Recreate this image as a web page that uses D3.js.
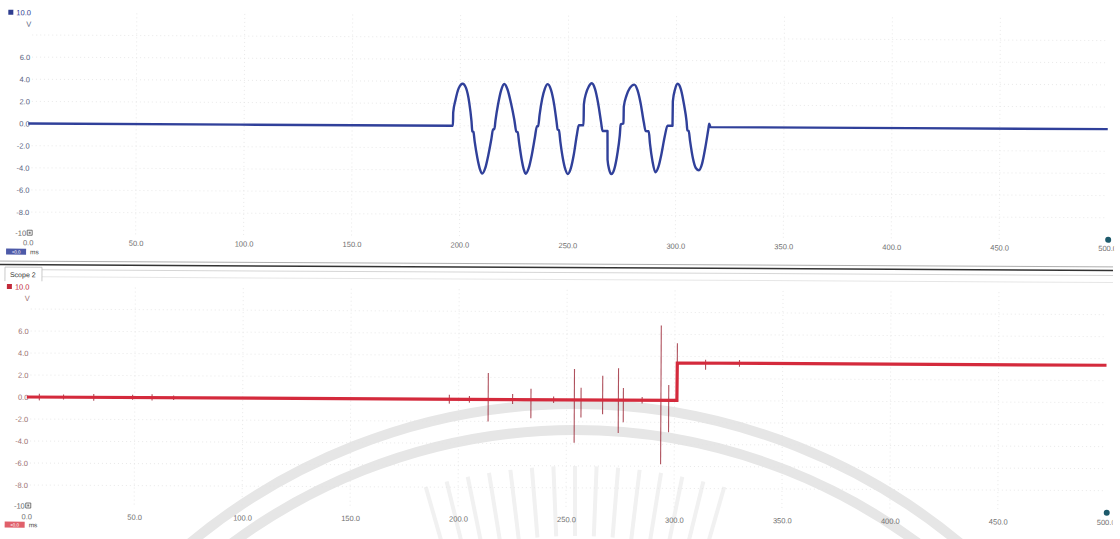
<!DOCTYPE html>
<html>
<head>
<meta charset="utf-8">
<script src="https://cdn.jsdelivr.net/npm/d3@7"></script>
<style>
  body { margin: 0; background: #fff; }
  svg { display: block; font-family: "Liberation Sans", "DejaVu Sans", sans-serif; }
</style>
</head>
<body>
<div id="scope"></div>
<script>
// values (time in ms, level in V)
const xTicks = [0, 50, 100, 150, 200, 250, 300, 350, 400, 450, 500]
const yTicks = [6, 4, 2, 0, -2, -4, -6, -8]
const gridV = [8, 6, 4, 2, 0, -2, -4, -6, -8]

const blueSignal = [
  [0, 0], [196.7, 0], [196.8, 1.2], [197.8, 2.3], [199.3, 3.4], [201.1, 3.8], [202.7, 3.4], [204.2, 2.1],
  [205.3, 0.4], [205.7, -0.5], [206.2, -0.55], [206.8, -1.4], [208.1, -2.9], [209.3, -3.9], [210.4, -4.3],
  [211.8, -3.8], [213.2, -2.6], [214.6, -1.1], [215.3, -0.3], [215.9, -0.3], [216.4, 0.5], [217.6, 2.0],
  [218.9, 3.2], [220.4, 3.8], [221.9, 3.3], [223.5, 2.1], [225.1, 0.6], [226.1, -0.5], [226.7, -0.55],
  [227.4, -1.5], [228.6, -3.0], [229.6, -3.9], [230.5, -4.3], [231.9, -3.8], [233.3, -2.6], [234.7, -1.0],
  [235.6, 0.0], [236.2, 0.0], [236.8, 1.0], [238.0, 2.5], [239.2, 3.4], [240.5, 3.8], [242.0, 3.3],
  [243.5, 2.0], [244.7, 0.4], [245.2, -0.3], [245.8, -0.35], [246.5, -1.4], [247.7, -2.9], [248.9, -3.9],
  [250.0, -4.3], [251.4, -3.8], [252.8, -2.5], [254.1, -0.8], [255.0, 0.1], [257.2, 0.1], [257.3, 2.0],
  [258.3, 3.0], [259.5, 3.6], [260.9, 3.9], [262.4, 3.4], [263.9, 2.1], [265.3, 0.4], [266.0, -0.4],
  [268.3, -0.4], [268.4, -3.0], [269.2, -3.9], [270.2, -4.3], [271.6, -3.8], [272.9, -2.5], [274.0, -0.8],
  [274.4, 0.2], [275.7, 0.3], [275.8, 1.8], [277.0, 2.8], [278.6, 3.5], [280.6, 3.8], [282.1, 3.3],
  [283.6, 2.1], [285.1, 0.4], [286.0, -0.4], [287.4, -0.4], [288.0, -1.5], [289.2, -3.1], [290.6, -4.1],
  [292.0, -3.6], [293.4, -2.4], [294.8, -0.9], [296.1, 0.1], [298.4, 0.1], [298.5, 2.3], [299.5, 3.4],
  [300.7, 3.9], [302.2, 3.4], [303.7, 2.0], [304.9, 0.5], [305.3, -0.3], [305.9, -0.35], [306.6, -1.3],
  [307.9, -2.8], [309.3, -3.7], [310.7, -3.9], [312.2, -3.3], [313.7, -1.8], [315.0, -0.2], [315.4, 0.3],
  [316.0, 0.0], [500, 0.0]
]

const redSignal = [[0, 0], [301.1, 0], [301.2, 3.4], [500, 3.4]]

// switching spikes on scope 2
const spikeTime = [5.8, 17, 31, 49, 58, 68, 195.7, 205, 213.7, 225, 233.5, 244, 253.6, 256.7, 266.7, 274.0, 276.3, 285, 293.7, 297.3, 301.2, 314.3, 330]
const spikeHigh = [0.3, 0.25, 0.3, 0.25, 0.3, 0.2, 0.4, 0.3, 2.4, 0.5, 1.0, 0.3, 2.8, 1.1, 2.2, 2.9, 1.1, 0.3, 6.8, 1.4, 5.2, 3.7, 3.7]
const spikeLow = [-0.3, -0.2, -0.3, -0.2, -0.25, -0.2, -0.4, -0.3, -2.0, -0.4, -1.7, -0.3, -3.9, -1.6, -1.3, -3.0, -2.0, -0.3, -5.8, -2.9, 0.0, 2.8, 3.1]

const width = 1120
const height = 539

const x = d3.scaleLinear().domain([0, 500]).range([27.5, 1107])
const yTop = d3.scaleLinear().domain([-10, 10]).range([237, 15.6])
const yBot = d3.scaleLinear().domain([-10, 10]).range([509.8, 289.8])

const svg = d3.select('#scope').append('svg')
  .attr('width', width)
  .attr('height', height)

svg.append('defs').append('clipPath').attr('id', 'clipR')
  .append('rect').attr('x', 0).attr('y', 0).attr('width', 1114).attr('height', height)

// faint watermark behind the lower scope
const wm = svg.append('g').attr('fill', 'none')
wm.selectAll('circle')
  .data([602, 576])
  .join('circle')
  .attr('cx', 575).attr('cy', 1006).attr('r', d => d)
  .attr('stroke', '#e6e6e6').attr('stroke-width', 10)
wm.selectAll('line')
  .data(d3.range(-0.28, 0.29, 0.04))
  .join('line')
  .attr('x1', a => 575 + 540 * Math.sin(a)).attr('y1', a => 1006 - 540 * Math.cos(a))
  .attr('x2', a => 575 + 470 * Math.sin(a)).attr('y2', a => 1006 - 470 * Math.cos(a))
  .attr('stroke', '#f1f1f1').attr('stroke-width', 4)

// the screenshot is tilted a little
const root = svg.append('g').attr('transform', 'rotate(0.3,560,270)')

const lineTop = d3.line().x(d => x(d[0])).y(d => yTop(d[1])).curve(d3.curveMonotoneX)
const lineBot = d3.line().x(d => x(d[0])).y(d => yBot(d[1]))

function grid(g, y) {
  g.selectAll('.h')
    .data(gridV)
    .join('line').attr('class', 'h')
    .attr('x1', 31).attr('x2', x(500))
    .attr('y1', d => y(d)).attr('y2', d => y(d))
  g.selectAll('.v')
    .data(xTicks.slice(1, -1))
    .join('line').attr('class', 'v')
    .attr('x1', d => x(d)).attr('x2', d => x(d))
    .attr('y1', y(10)).attr('y2', y(-10))
  g.attr('stroke', '#e4e4e4').attr('stroke-width', 0.8).attr('stroke-dasharray', '1,3')
}

function panel(y, yColor, mainColor, rectColor, axisY, msY) {
  const p = root.append('g')
  p.append('g').call(g => grid(g, y))

  // y axis labels
  p.append('g')
    .attr('transform', `translate(30,0)`)
    .call(d3.axisLeft(y).tickValues(yTicks).tickSize(0).tickPadding(1).tickFormat(d => d.toFixed(1)))
    .call(g => g.select('.domain').remove())
    .call(g => g.selectAll('text').attr('fill', yColor).attr('font-size', 7.5).attr('font-family', null))

  // x axis labels
  p.append('g')
    .attr('clip-path', 'url(#clipR)')
    .attr('transform', `translate(0,${axisY})`)
    .call(d3.axisBottom(x).tickValues(xTicks).tickSize(0).tickPadding(3).tickFormat(d => d.toFixed(1)))
    .call(g => g.select('.domain').remove())
    .call(g => g.selectAll('text').attr('fill', '#707070').attr('font-size', 7.5).attr('font-family', null))

  // channel header
  p.append('rect').attr('x', 7).attr('y', y(10) - 3).attr('width', 5).attr('height', 5).attr('fill', mainColor)
  p.append('text').attr('x', 15).attr('y', y(10) + 2.5).attr('font-size', 7.5).attr('fill', mainColor).text('10.0')
  p.append('text').attr('x', 25).attr('y', y(10) + 14).attr('font-size', 7.5).attr('fill', yColor).text('V')

  // bottom of range
  p.append('text').attr('x', 26).attr('y', y(-10) + 1.5).attr('text-anchor', 'end')
    .attr('font-size', 7.5).attr('fill', '#666').text('-10')
  p.append('rect').attr('x', 27).attr('y', y(-10) - 4).attr('width', 5).attr('height', 5)
    .attr('fill', 'none').attr('stroke', '#555').attr('stroke-width', 0.8)
  p.append('rect').attr('x', 28.5).attr('y', y(-10) - 2.5).attr('width', 2).attr('height', 2).attr('fill', '#777')

  // time unit box
  p.append('rect').attr('x', 6).attr('y', msY).attr('width', 20).attr('height', 6).attr('fill', rectColor)
  p.append('text').attr('x', 16).attr('y', msY + 4.8).attr('text-anchor', 'middle')
    .attr('font-size', 4.5).attr('fill', '#fff').text('+0.0')
  p.append('text').attr('x', 30).attr('y', msY + 5.5).attr('font-size', 6.5).attr('fill', '#444').text('ms')

  // end marker
  p.append('circle').attr('cx', x(500) + 1).attr('cy', y(-10)).attr('r', 3).attr('fill', '#1d5a6b')
  return p
}

const topPanel = panel(yTop, '#56607e', '#2e3d8f', '#4d5aa8', 239.8, 251.5)
const botPanel = panel(yBot, '#9a6f6f', '#c22a3a', '#e0606a', 513.8, 524.5)

topPanel.append('path')
  .datum(blueSignal)
  .attr('d', lineTop)
  .attr('fill', 'none')
  .attr('stroke', '#30409a')
  .attr('stroke-width', 2.4)
  .attr('stroke-linejoin', 'round')

botPanel.append('g')
  .selectAll('line')
  .data(spikeTime)
  .join('line')
  .attr('x1', d => x(d)).attr('x2', d => x(d))
  .attr('y1', (d, i) => yBot(spikeHigh[i])).attr('y2', (d, i) => yBot(spikeLow[i]))
  .attr('stroke', '#9b2535')
  .attr('stroke-width', 1.1)
  .attr('stroke-opacity', 0.8)

botPanel.append('path')
  .datum(redSignal)
  .attr('d', lineBot)
  .attr('fill', 'none')
  .attr('stroke', '#d42a3c')
  .attr('stroke-width', 3.2)

// panel divider and "Scope 2" tab
const sep = root.append('g')
sep.append('line').attr('x1', 0).attr('x2', 1113).attr('y1', 264).attr('y2', 264).attr('stroke', '#9a9a9a').attr('stroke-width', 0.8)
sep.append('line').attr('x1', 0).attr('x2', 1113).attr('y1', 267.5).attr('y2', 267.5).attr('stroke', '#333').attr('stroke-width', 1.5)
sep.append('line').attr('x1', 42).attr('x2', 1113).attr('y1', 272.5).attr('y2', 272.5).attr('stroke', '#d6d6d6').attr('stroke-width', 1)
sep.append('line').attr('x1', 42).attr('x2', 1113).attr('y1', 279.5).attr('y2', 279.5).attr('stroke', '#e6e6e6').attr('stroke-width', 1)
sep.append('path').attr('d', 'M5,284 L5,270 L42,270 L42,284').attr('fill', '#fff').attr('stroke', '#bdbdbd').attr('stroke-width', 0.8)
sep.append('text').attr('x', 10).attr('y', 280).attr('font-size', 7).attr('fill', '#333').text('Scope 2')
</script>
</body>
</html>
